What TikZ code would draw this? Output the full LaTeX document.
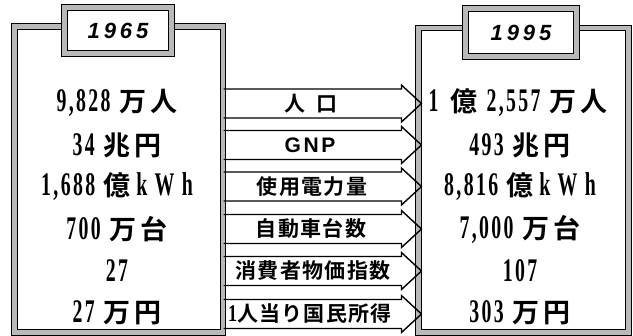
\documentclass[tikz,border=0pt]{standalone}
\usepackage{fontspec}
\usepackage{graphicx}
\setmainfont{Liberation Serif}
\newfontfamily\numfont{Liberation Serif}[LetterSpace=12]
\newfontfamily\jpv{Noto Sans CJK JP Bold}[LetterSpace=14]
\newfontfamily\jpl{Noto Sans CJK JP Bold}[LetterSpace=6]
\newfontfamily\yrfont{Liberation Sans}[LetterSpace=18]
\newfontfamily\gnpfont{Liberation Sans}[LetterSpace=12]
\newcommand\numv[1]{\scalebox{0.6}[1]{\fontsize{33bp}{33bp}\numfont\bfseries #1}}
\newcommand\jv[1]{{\fontsize{27bp}{27bp}\jpv #1}}
\tikzset{
  framebox/.style={draw=black, line width=1.1bp, double=gray!55, double distance=4.2bp, inner sep=0pt},
  titlebox/.style={framebox, fill=white, font=\fontsize{22bp}{22bp}\yrfont\bfseries\itshape},
  valtext/.style={inner sep=0pt},
  arrowshape/.style={draw=black, line width=1.4bp, line join=miter},
  arrowlabel/.style={inner sep=0pt, font=\fontsize{21bp}{21bp}\jpl}
}
\begin{document}
\begin{tikzpicture}[x=1bp,y=-1bp]
\useasboundingbox (0,0) rectangle (633,335);
% main boxes
\node[framebox, minimum width=208.5bp, minimum height=306bp] (lbox) at (118.75,179.5) {};
\node[framebox, minimum width=210bp, minimum height=304.5bp] (rbox) at (523.5,180.25) {};
% title boxes
\node[titlebox, minimum width=107bp, minimum height=46bp] (t1) at (118,30.5) {1965};
\node[titlebox, minimum width=111bp, minimum height=48bp] (t2) at (521,32.5) {1995};
% arrows
\foreach \y/\nm in {103.5/a1,145/a2,186.5/a3,229/a4,271/a5,314/a6}{
  \coordinate (\nm s) at (lbox.east |- 0,\y);
  \coordinate (\nm t) at ([xshift=3.5bp]rbox.west |- 0,\y);
  \draw[arrowshape] ([yshift=-14.5bp]\nm s) -- ([xshift=-20bp,yshift=-14.5bp]\nm t)
    -- ([xshift=-20bp,yshift=-18.5bp]\nm t) -- (\nm t)
    -- ([xshift=-20bp,yshift=18.5bp]\nm t) -- ([xshift=-20bp,yshift=14.5bp]\nm t)
    -- ([yshift=14.5bp]\nm s);
}
% arrow labels
\node[arrowlabel] (a1l) at (311,103.5) {人\hspace{12bp}口};
\node[arrowlabel, font=\fontsize{21bp}{21bp}\gnpfont\bfseries] (a2l) at (310,145) {GNP};
\node[arrowlabel] (a3l) at (312,186.5) {使用電力量};
\node[arrowlabel] (a4l) at (311,229) {自動車台数};
\node[arrowlabel] (a5l) at (313,271) {消費者物価指数};
\node[arrowlabel] (a6l) at (310,314) {{\rmfamily\bfseries\fontsize{24bp}{24bp}\selectfont\scalebox{0.75}[1]{1}}人当り国民所得};
% left values
\node[valtext] (l1) at (117,103) {\numv{9,828}\hspace{9bp}\jv{万人}};
\node[valtext] (l2) at (117,145) {\numv{34}\hspace{9bp}\jv{兆円}};
\node[valtext] (l3) at (117,187) {\numv{1,688}\hspace{8bp}\jv{億}\hspace{6bp}\numv{k\ W\ h}};
\node[valtext] (l4) at (117,229) {\numv{700}\hspace{9bp}\jv{万台}};
\node[valtext] (l5) at (117,271) {\numv{27}};
\node[valtext] (l6) at (117,313) {\numv{27}\hspace{9bp}\jv{万円}};
% right values
\node[valtext] (r1) at (518,103) {\numv{1}\hspace{12bp}\jv{億}\hspace{9bp}\numv{2,557}\hspace{9bp}\jv{万人}};
\node[valtext] (r2) at (520,145) {\numv{493}\hspace{9bp}\jv{兆円}};
\node[valtext] (r3) at (520,187) {\numv{8,816}\hspace{8bp}\jv{億}\hspace{6bp}\numv{k\ W\ h}};
\node[valtext] (r4) at (520,229) {\numv{7,000}\hspace{9bp}\jv{万台}};
\node[valtext] (r5) at (520,271) {\numv{107}};
\node[valtext] (r6) at (520,313) {\numv{303}\hspace{9bp}\jv{万円}};
\end{tikzpicture}
\end{document}
